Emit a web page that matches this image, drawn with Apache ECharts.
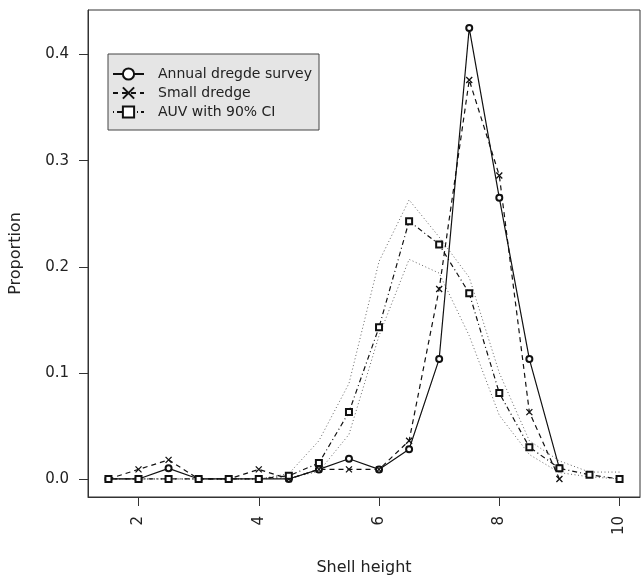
<!DOCTYPE html>
<html>
<head>
<meta charset="utf-8">
<script src="https://cdn.jsdelivr.net/npm/echarts@6/dist/echarts.min.js"></script>
<style>html,body{margin:0;padding:0;background:#fff}#c{width:643px;height:581px}</style>
</head>
<body>
<div id="c"></div>
<script>
// Shell height classes
var shellHeight = [1.5,2,2.5,3,3.5,4,4.5,5,5.5,6,6.5,7,7.5,8,8.5,9,9.5,10];
// Annual dredge survey (ends at 9)
var annualSurvey = [0,0,0.010,0,0,0,0,0.009,0.019,0.009,0.028,0.113,0.425,0.265,0.113,0.010];
// Small dredge (ends at 9)
var smallDredge = [0,0.009,0.018,0,0,0.009,0,0.009,0.009,0.009,0.036,0.179,0.376,0.286,0.063,0];
// AUV estimate
var auv = [0,0,0,0,0,0,0.003,0.015,0.063,0.143,0.243,0.221,0.175,0.081,0.030,0.010,0.004,0];
// AUV 90% CI
var auvUpper = [0,0,0,0,0,0,0.005,0.036,0.090,0.205,0.263,0.228,0.190,0.100,0.036,0.017,0.0065,0.0065];
var auvLower = [0,0,0,0,0,0,0.001,0.007,0.042,0.135,0.207,0.194,0.135,0.060,0.023,0.006,0.002,0];
var xTicks = [2,4,6,8,10];
var yTicks = [0,0.1,0.2,0.3,0.4];
var seriesNames = ['Annual dregde survey','Small dredge','AUV with 90% CI'];

function pairs(vals){ return vals.map(function(v,i){ return [shellHeight[i], v]; }); }

var FONT = 'DejaVu Sans';
var chart = echarts.init(document.getElementById('c'), null, {renderer:'canvas'});
var crossPath = 'path://M0,0L10,10M0,10L10,0';
chart.setOption({
  animation:false,
  backgroundColor:'#fff',
  grid:{left:88,right:3,top:10,bottom:77,show:true,borderColor:'#333',borderWidth:1,backgroundColor:'transparent'},
  xAxis:{
    type:'value',min:1.16,max:10.34,
    name:'Shell height',nameLocation:'middle',nameGap:63,
    nameTextStyle:{fontFamily:FONT,fontSize:16,color:'#222'},
    axisLine:{show:true,onZero:false,lineStyle:{color:'#333',width:1}},
    axisTick:{show:true,inside:false,length:9,customValues:xTicks,lineStyle:{color:'#333'}},
    axisLabel:{rotate:90,margin:19,fontFamily:FONT,fontSize:15,color:'#222',customValues:xTicks,
      formatter:function(v){return String(v);}},
    splitLine:{show:false}
  },
  yAxis:{
    type:'value',min:-0.017,max:0.442,
    name:'Proportion',nameLocation:'middle',nameGap:64,
    nameTextStyle:{fontFamily:FONT,fontSize:16,color:'#222'},
    axisLine:{show:true,onZero:false,lineStyle:{color:'#333',width:1}},
    axisTick:{show:true,inside:false,length:9,customValues:yTicks,lineStyle:{color:'#333'}},
    axisLabel:{margin:19,fontFamily:FONT,fontSize:15,color:'#222',customValues:yTicks,
      formatter:function(v){return v.toFixed(1);}},
    splitLine:{show:false}
  },
  legend:{
    data:seriesNames,
    orient:'vertical',left:108,top:54,
    backgroundColor:'#e5e5e5',borderColor:'#444',borderWidth:1,
    padding:[13,7,11,4],itemGap:5,itemWidth:31,itemHeight:14,
    textStyle:{fontFamily:FONT,fontSize:14,color:'#222',padding:[0,0,0,9]}
  },
  series:[
    {name:'AUV upper',type:'line',data:pairs(auvUpper),symbol:'none',silent:true,
      lineStyle:{color:'#666',width:1,type:[1,2.5]},z:1},
    {name:'AUV lower',type:'line',data:pairs(auvLower),symbol:'none',silent:true,
      lineStyle:{color:'#666',width:1,type:[1,2.5]},z:1},
    {name:seriesNames[0],type:'line',data:pairs(annualSurvey),symbol:'emptyCircle',symbolSize:6,
      itemStyle:{color:'#111',borderColor:'#111',borderWidth:1},
      lineStyle:{color:'#111',width:1.2,type:'solid'},z:3},
    {name:seriesNames[1],type:'line',data:pairs(smallDredge),symbol:crossPath,symbolSize:6,
      itemStyle:{color:'#111',borderColor:'#111',borderWidth:1.3},
      lineStyle:{color:'#111',width:1.2,type:[5,4]},z:3},
    {name:seriesNames[2],type:'line',data:pairs(auv),symbol:'emptyRect',symbolSize:6,
      itemStyle:{color:'#111',borderColor:'#111',borderWidth:1.2},
      lineStyle:{color:'#111',width:1.2,type:[1,3,5,3]},z:3}
  ]
});
</script>
</body>
</html>
